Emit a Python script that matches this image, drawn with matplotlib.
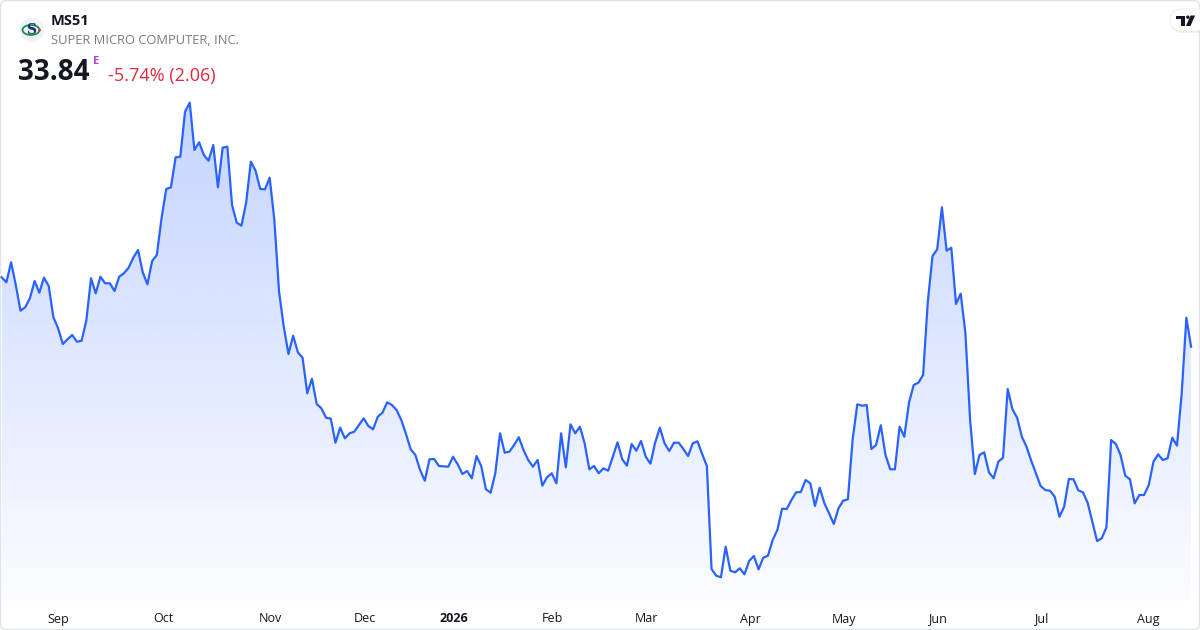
import numpy as np
import matplotlib
matplotlib.use('Agg')
import matplotlib.pyplot as plt
from matplotlib.colors import to_rgb
from matplotlib.patches import Circle, Ellipse, FancyBboxPatch, Polygon, Rectangle

plt.rcParams['font.family'] = ['Open Sans', 'DejaVu Sans']

# header
ticker = 'MS51'
company = 'SUPER MICRO COMPUTER, INC.'
last_price = '33.84'
change_text = '-5.74% (2.06)'

# daily closes
closes = [
    40.77, 40.27, 42.27, 40.0, 37.43, 37.77, 38.67, 40.4, 39.23, 40.73,
    39.9, 36.77, 35.67, 34.1, 34.57, 35.0, 34.33, 34.43, 36.43, 40.67,
    39.17, 40.83, 40.17, 40.17, 39.4, 40.83, 41.17, 41.73, 42.73, 43.5,
    41.27, 40.07, 42.4, 43.0, 46.67, 49.6, 49.77, 52.77, 52.83, 57.33,
    58.23, 53.5, 54.27, 53.0, 52.43, 54.0, 49.77, 53.73, 53.83, 48.0,
    46.23, 45.93, 48.23, 52.33, 51.43, 49.6, 49.57, 50.73, 46.5, 39.33,
    35.83, 33.1, 34.93, 33.27, 32.73, 29.17, 30.63, 28.1, 27.67, 26.73,
    26.63, 24.23, 25.73, 24.67, 25.17, 25.33, 26.0, 26.67, 25.9, 25.57,
    26.83, 27.23, 28.27, 28.0, 27.5, 26.5, 25.1, 23.57, 23.0, 21.5,
    20.43, 22.57, 22.6, 21.9, 21.87, 21.83, 22.83, 22.07, 21.1, 21.4,
    20.67, 22.9, 21.9, 19.57, 19.23, 21.17, 25.17, 23.23, 23.33, 24.0,
    24.77, 23.5, 22.5, 21.83, 22.5, 19.93, 20.77, 21.17, 20.17, 25.17,
    21.77, 26.07, 25.17, 25.83, 24.17, 21.57, 21.9, 21.17, 21.67, 21.43,
    22.83, 24.27, 22.57, 21.93, 24.1, 23.43, 24.4, 22.83, 22.13, 24.23,
    25.73, 24.17, 23.4, 24.23, 24.23, 23.6, 22.9, 24.17, 24.37, 23.1,
    21.9, 11.6, 10.93, 10.77, 13.83, 11.43, 11.27, 11.67, 11.07, 12.4,
    12.9, 11.57, 12.73, 12.93, 14.5, 15.5, 17.63, 17.6, 18.5, 19.27,
    19.3, 20.5, 20.17, 17.9, 19.73, 18.17, 17.17, 16.1, 17.67, 18.43,
    18.57, 24.5, 28.07, 27.93, 28.0, 23.6, 24.0, 25.97, 23.0, 21.57,
    21.57, 25.83, 24.83, 28.23, 30.0, 30.23, 31.0, 38.33, 42.9, 43.57,
    47.77, 43.43, 43.73, 38.1, 39.13, 35.17, 26.5, 21.1, 23.0, 23.27,
    21.27, 20.67, 22.33, 22.73, 29.6, 27.57, 26.73, 24.83, 23.83, 22.43,
    21.17, 19.9, 19.5, 19.43, 18.83, 16.83, 17.83, 20.6, 20.57, 19.47,
    19.27, 18.23, 16.33, 14.4, 14.67, 15.77, 24.5, 24.1, 23.0, 20.93,
    20.57, 18.17, 19.0, 19.0, 20.0, 22.33, 23.07, 22.5, 22.67, 24.73,
    23.93, 29.1, 36.73, 33.83,
]

month_labels = ['Sep', 'Oct', 'Nov', 'Dec', '2026', 'Feb', 'Mar', 'Apr',
                'May', 'Jun', 'Jul', 'Aug']
month_starts = [12, 34.3, 57.1, 77.3, 96.2, 117.1, 137.1, 159.2, 179.2,
                199, 221.1, 243.9]

line_color = '#2962ff'
text_color = '#131722'

fig = plt.figure(figsize=(12, 6.3), dpi=100)
fig.patch.set_facecolor('white')

# background layer in pixel coordinates (frame, header, logos)
bg = fig.add_axes([0, 0, 1, 1])
bg.set_xlim(0, 1200)
bg.set_ylim(630, 0)
bg.axis('off')
bg.add_patch(FancyBboxPatch((0.5, 0.5), 1199, 629,
                            boxstyle='round,pad=0,rounding_size=6',
                            fc='white', ec='#e0e3eb', lw=1))

# company logo
bg.add_patch(Circle((32, 30), 12, fc='#eef1f6', ec='none'))
bg.add_patch(Ellipse((31, 30), 17, 10, fc='none', ec='#1e8c4e', lw=1.3))
bg.text(31, 30.5, 'S', fontsize=10, fontweight='bold', family='DejaVu Serif',
        color='#1c2f7a', ha='center', va='center')
bg.add_patch(Circle((39.5, 30), 1.4, fc='#e53935', ec='none'))

bg.text(51, 21, ticker, fontsize=10.5, fontweight='bold', color=text_color, va='center')
bg.text(51, 41, company, fontsize=9.25, color='#787b86', va='center')
bg.text(18, 72, last_price, fontsize=20, fontweight='bold', color=text_color, va='center')
bg.text(93, 61, 'E', fontsize=8, fontweight='bold', color='#a64ac9', va='center')
bg.text(108, 75.5, change_text, fontsize=13, color='#e0283d', va='center')

# TradingView badge
bg.add_patch(FancyBboxPatch((1171, 11), 40, 22, boxstyle='round,pad=0,rounding_size=11',
                            fc='#000000', ec='none', alpha=0.06))
bg.add_patch(FancyBboxPatch((1170, 9), 40, 22, boxstyle='round,pad=0,rounding_size=11',
                            fc='white', ec='#ebebeb', lw=0.6))
bg.add_patch(Rectangle((1176, 15.5), 8.5, 3.2, fc=text_color, ec='none'))
bg.add_patch(Rectangle((1180.5, 15.5), 4, 10.5, fc=text_color, ec='none'))
bg.add_patch(Circle((1187.8, 17.2), 1.7, fc=text_color, ec='none'))
bg.add_patch(Polygon([(1190.5, 15.5), (1195, 15.5), (1190.5, 26), (1186, 26)],
                     fc=text_color, ec='none'))

# price chart
ax = fig.add_axes([0, 30 / 630, 1, 510 / 630])
ax.patch.set_alpha(0)
x = np.arange(len(closes))
y_lo, y_hi = 8.5, 59.5

grad = np.zeros((256, 1, 4))
grad[..., :3] = to_rgb(line_color)
grad[..., 3] = np.linspace(0.28, 0.02, 256)[:, None]
im = ax.imshow(grad, aspect='auto', extent=[x[0], x[-1], y_lo, y_hi],
               origin='upper', zorder=1, interpolation='bilinear')
area = ax.fill_between(x, closes, y_lo, color='none', lw=0)
im.set_clip_path(area.get_paths()[0], transform=ax.transData)

ax.plot(x, closes, color=line_color, lw=1.6, zorder=3, solid_joinstyle='round')

ax.set_xlim(-0.36, len(closes) - 1 + 1.9)
ax.set_ylim(y_lo, y_hi)
ax.set_yticks([])
ax.set_xticks(month_starts, month_labels)
ax.tick_params(axis='x', length=0, pad=9, labelsize=9, colors=text_color)
for lbl in ax.get_xticklabels():
    if lbl.get_text() == '2026':
        lbl.set_fontweight('bold')
for s in ax.spines.values():
    s.set_visible(False)

fig.savefig('out.png', dpi=100, facecolor='white')
